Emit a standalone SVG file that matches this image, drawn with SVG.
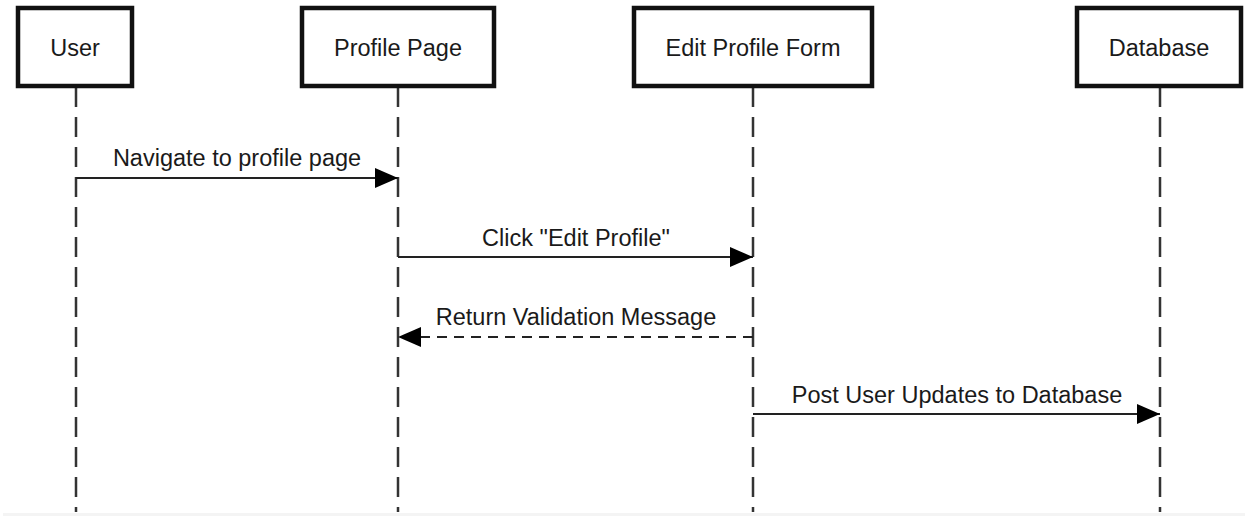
<svg xmlns="http://www.w3.org/2000/svg" width="1245" height="516" viewBox="0 0 1245 516">
<style>
.box{fill:#fff;stroke:#111;stroke-width:4.5}
.lbl{font-family:"Liberation Sans",Arial,Helvetica,sans-serif;font-size:23.5px;fill:#1a1a1a;text-anchor:middle}
.life{stroke:#333;stroke-width:2.5;stroke-dasharray:20 10;fill:none}
.msg{stroke:#222;stroke-width:2;fill:none}
.dash{stroke-dasharray:10 7}
</style>
<defs>
<marker id="ah" viewBox="0 0 23 20" refX="23" refY="10" markerWidth="23" markerHeight="20" markerUnits="userSpaceOnUse" orient="auto">
<path d="M0,0 L23,10 L0,20 Z" fill="#000"/>
</marker>
</defs>
<rect x="0" y="0" width="1245" height="516" fill="#fff"/>
<rect x="3" y="513" width="1242" height="3" fill="#f4f4f4"/>
<g id="lifelines">
<line class="life" x1="76" y1="87" x2="76" y2="512"/>
<line class="life" x1="398" y1="87" x2="398" y2="512"/>
<line class="life" x1="753" y1="87" x2="753" y2="512"/>
<line class="life" x1="1160" y1="87" x2="1160" y2="512"/>
</g>
<g id="node-user">
<rect class="box" x="18" y="8" width="114" height="78"/>
<text class="lbl" x="75" y="56">User</text>
</g>
<g id="node-profile-page">
<rect class="box" x="302" y="8" width="192" height="78"/>
<text class="lbl" x="398" y="56">Profile Page</text>
</g>
<g id="node-edit-profile-form">
<rect class="box" x="634" y="8" width="238" height="78"/>
<text class="lbl" x="753" y="56">Edit Profile Form</text>
</g>
<g id="node-database">
<rect class="box" x="1077" y="8" width="164" height="78"/>
<text class="lbl" x="1159" y="56">Database</text>
</g>
<g id="connectors">
<line class="msg" x1="76" y1="178" x2="398" y2="178" marker-end="url(#ah)"/>
<text class="lbl" x="237" y="166">Navigate to profile page</text>
<line class="msg" x1="398" y1="257" x2="753" y2="257" marker-end="url(#ah)"/>
<text class="lbl" x="576" y="246">Click "Edit Profile"</text>
<line class="msg dash" x1="753" y1="337" x2="398" y2="337" marker-end="url(#ah)"/>
<text class="lbl" x="576" y="325">Return Validation Message</text>
<line class="msg" x1="753" y1="414" x2="1160" y2="414" marker-end="url(#ah)"/>
<text class="lbl" x="957" y="403">Post User Updates to Database</text>
</g>
</svg>
